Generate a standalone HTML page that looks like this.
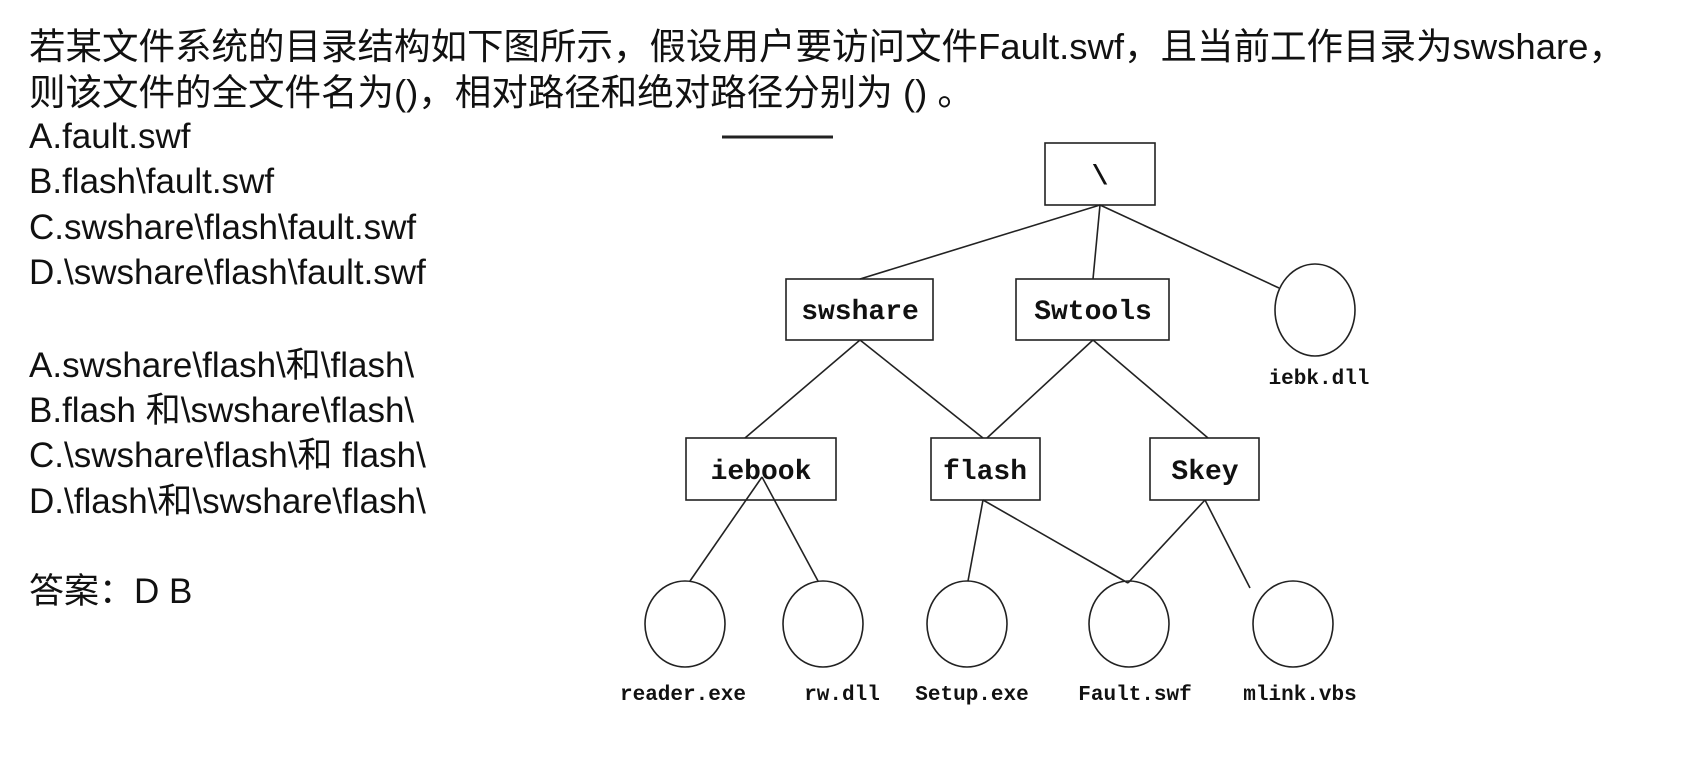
<!DOCTYPE html>
<html><head><meta charset="utf-8"><style>
body{margin:0;width:1692px;height:768px;background:#fff;position:relative;overflow:hidden;font-family:"Liberation Sans","Noto Sans CJK SC",sans-serif;color:#111}
.t{position:absolute;left:29px;font-size:35px;line-height:40px;white-space:nowrap}
.q{font-size:36.5px}
</style></head><body>
<div class="t q" style="top:27px">若某文件系统的目录结构如下图所示，假设用户要访问文件Fault.swf，且当前工作目录为swshare，</div>
<div class="t q" style="top:73px">则该文件的全文件名为()，相对路径和绝对路径分别为 () 。</div>
<div class="t" style="top:117px">A.fault.swf</div>
<div class="t" style="top:162px">B.flash\fault.swf</div>
<div class="t" style="top:208px">C.swshare\flash\fault.swf</div>
<div class="t" style="top:253px">D.\swshare\flash\fault.swf</div>
<div class="t" style="top:346px">A.swshare\flash\和\flash\</div>
<div class="t" style="top:391px">B.flash 和\swshare\flash\</div>
<div class="t" style="top:436px">C.\swshare\flash\和 flash\</div>
<div class="t" style="top:482px">D.\flash\和\swshare\flash\</div>
<div class="t" style="top:572px">答案：D  B</div>
<svg width="1692" height="768" style="position:absolute;left:0;top:0" font-family="Liberation Mono, monospace">
<g stroke="#222" stroke-width="1.6" fill="none">
<line x1="722" y1="137" x2="833" y2="137" stroke-width="3"/>
<rect x="1045" y="143" width="110" height="62" fill="#fff"/>
<rect x="786" y="279" width="147" height="61"/>
<rect x="1016" y="279" width="153" height="61"/>
<ellipse cx="1315" cy="310" rx="40" ry="46"/>
<rect x="686" y="438" width="150" height="62"/>
<rect x="931" y="438" width="109" height="62"/>
<rect x="1150" y="438" width="109" height="62"/>
<ellipse cx="685" cy="624" rx="40" ry="43"/>
<ellipse cx="823" cy="624" rx="40" ry="43"/>
<ellipse cx="967" cy="624" rx="40" ry="43"/>
<ellipse cx="1129" cy="624" rx="40" ry="43"/>
<ellipse cx="1293" cy="624" rx="40" ry="43"/>
<line x1="1100" y1="205" x2="860" y2="279"/>
<line x1="1100" y1="205" x2="1093" y2="279"/>
<line x1="1100" y1="205" x2="1279" y2="288"/>
<line x1="860" y1="340" x2="745" y2="438"/>
<line x1="860" y1="340" x2="983" y2="438"/>
<line x1="1093" y1="340" x2="987" y2="438"/>
<line x1="1093" y1="340" x2="1208" y2="438"/>
<line x1="762" y1="477" x2="690" y2="581"/>
<line x1="762" y1="477" x2="818" y2="581"/>
<line x1="983" y1="500" x2="968" y2="581"/>
<line x1="983" y1="500" x2="1128" y2="583"/>
<line x1="1205" y1="500" x2="1128" y2="583"/>
<line x1="1205" y1="500" x2="1250" y2="588"/>
</g>
<g fill="#111" font-size="28" font-weight="bold" text-anchor="middle">
<text x="1100" y="184">\</text>
<text x="860" y="319">swshare</text>
<text x="1093" y="319">Swtools</text>
<text x="761" y="479">iebook</text>
<text x="985" y="479">flash</text>
<text x="1205" y="479">Skey</text>
</g>
<g fill="#111" font-size="21" font-weight="bold" text-anchor="middle">
<text x="1319" y="384">iebk.dll</text>
<text x="683" y="700">reader.exe</text>
<text x="842" y="700">rw.dll</text>
<text x="972" y="700">Setup.exe</text>
<text x="1135" y="700">Fault.swf</text>
<text x="1300" y="700">mlink.vbs</text>
</g>
</svg>
</body></html>
